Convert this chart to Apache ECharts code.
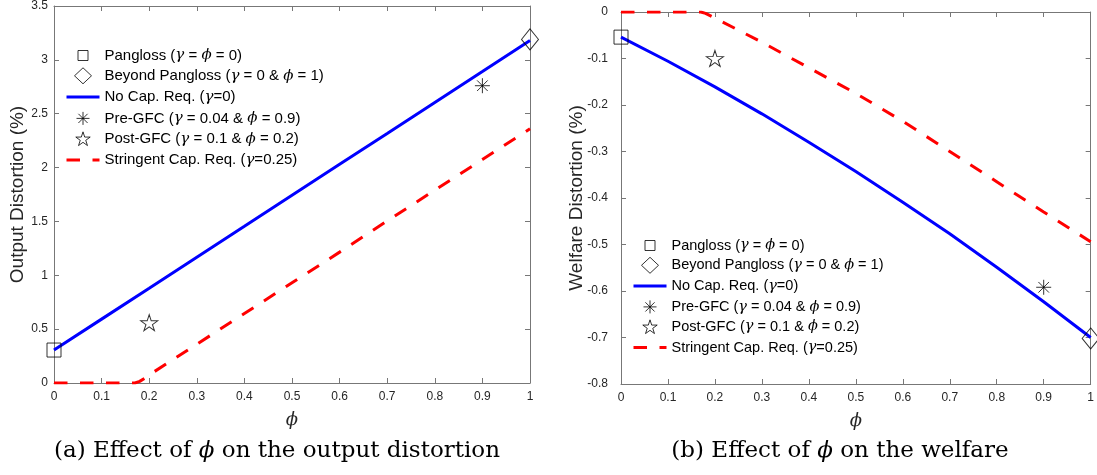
<!DOCTYPE html>
<html>
<head>
<meta charset="utf-8">
<script src="https://cdn.jsdelivr.net/npm/echarts@6/dist/echarts.min.js"></script>
<style>
html,body{margin:0;padding:0;background:#fff;}
#chart{width:1097px;height:475px;}
</style>
</head>
<body>
<div id="chart"></div>
<script>
// ---- data ----
const phiGrid = [0, 0.1, 0.2, 0.3, 0.4, 0.5, 0.6, 0.7, 0.8, 0.9, 1];
const outputNoCap = [0.306, 0.593, 0.88, 1.168, 1.455, 1.743, 2.03, 2.317, 2.605, 2.892, 3.18];
const phiStringentOut = [0, 0.1, 0.17, 0.18, 0.19, 0.2, 0.3, 0.4, 0.5, 0.6, 0.7, 0.8, 0.9, 1];
const outputStringent = [0, 0, 0, 0.015, 0.043, 0.075, 0.36, 0.645, 0.93, 1.215, 1.505, 1.79, 2.075, 2.36];
const welfareNoCap = [-0.054, -0.106, -0.161, -0.219, -0.280, -0.343, -0.409, -0.477, -0.549, -0.623, -0.700];
const phiStringentWel = [0, 0.1, 0.17, 0.18, 0.2, 0.3, 0.4, 0.5, 0.6, 0.7, 0.8, 0.9, 1];
const welfareStringent = [0, 0, 0, -0.003, -0.013, -0.065, -0.12, -0.175, -0.235, -0.30, -0.365, -0.43, -0.494];
const regimeNames = ['Pangloss', 'Beyond Pangloss', 'Pre-GFC', 'Post-GFC'];
const regimePhi = [0, 1, 0.9, 0.2];
const outputRegime = [0.306, 3.19, 2.76, 0.56];
const welfareRegime = [-0.054, -0.702, -0.592, -0.10];
const lineNames = ['No Cap. Req.', 'Stringent Cap. Req.'];
const legendOrder = ['Pangloss', 'Beyond Pangloss', 'No Cap. Req.', 'Pre-GFC', 'Post-GFC', 'Stringent Cap. Req.'];
const legendLabels = {
  'Pangloss': 'Pangloss ({g|γ} = {g|ϕ} = 0)',
  'Beyond Pangloss': 'Beyond Pangloss ({g|γ} = 0 & {g|ϕ} = 1)',
  'No Cap. Req.': 'No Cap. Req. ({g|γ}=0)',
  'Pre-GFC': 'Pre-GFC ({g|γ} = 0.04 & {g|ϕ} = 0.9)',
  'Post-GFC': 'Post-GFC ({g|γ} = 0.1 & {g|ϕ} = 0.2)',
  'Stringent Cap. Req.': 'Stringent Cap. Req. ({g|γ}=0.25)'
};

// ---- styles ----
const AX = '#777';
const TXT = '#262626';
const BLUE = '#0000ff';
const RED = '#ff0000';
const DASH = [13.5, 12.5];
const ASTER = 'path://M0 10L20 10M10 0L10 20M2.93 2.93L17.07 17.07M17.07 2.93L2.93 17.07';
const STAR = 'path://M10 0L12.245 6.91L19.511 6.91L13.633 11.18L15.878 18.09L10 13.82L4.122 18.09L6.367 11.18L0.489 6.91L7.755 6.91Z';
const markerStyle = {color: 'rgba(0,0,0,0)', borderColor: '#000', borderWidth: 1};
const regimeSymbols = {
  'Pangloss': {symbol: 'rect', size: 14},
  'Beyond Pangloss': {symbol: 'diamond', size: [17, 21]},
  'Pre-GFC': {symbol: ASTER, size: 15},
  'Post-GFC': {symbol: STAR, size: [17, 16]}
};
const legendIcons = {
  'Pangloss': {icon: 'path://M0 0M16 16M3 3L13 3L13 13L3 13Z', itemStyle: markerStyle},
  'Beyond Pangloss': {icon: 'path://M8.5 0L17 8L8.5 16L0 8Z', itemStyle: markerStyle},
  'No Cap. Req.': {icon: 'path://M0 0M33 16M0 8L33 8', itemStyle: {color: 'rgba(0,0,0,0)', borderColor: BLUE, borderWidth: 3}},
  'Pre-GFC': {icon: 'path://M0 0M16 16M1.5 8L14.5 8M8 1.5L8 14.5M3.4 3.4L12.6 12.6M12.6 3.4L3.4 12.6', itemStyle: markerStyle},
  'Post-GFC': {icon: 'path://M10 -1.5M10 19.6M10 0L12.245 6.91L19.511 6.91L13.633 11.18L15.878 18.09L10 13.82L4.122 18.09L6.367 11.18L0.489 6.91L7.755 6.91Z', itemStyle: markerStyle},
  'Stringent Cap. Req.': {icon: 'path://M0 0M33 16M0 8L33 8', itemStyle: {color: 'rgba(0,0,0,0)', borderColor: RED, borderWidth: 3, borderType: DASH}}
};

function zip(xs, ys) { return xs.map((x, i) => [x, ys[i]]); }

function xAxes(grid, top) {
  return {
    type: 'value', gridIndex: grid, position: top ? 'top' : 'bottom',
    min: 0, max: 1, interval: 0.1,
    axisLine: {show: true, onZero: false, lineStyle: {color: AX, width: 1}},
    axisTick: {show: true, inside: true, length: 5, lineStyle: {color: AX}},
    axisLabel: {show: !top, margin: 8, color: TXT, fontSize: 12, fontFamily: 'Liberation Sans'},
    splitLine: {show: false},
    name: top ? '' : 'ϕ', nameLocation: 'middle', nameGap: 28, nameMoveOverlap: false,
    nameTextStyle: {fontFamily: 'DejaVu Serif', fontStyle: 'italic', fontSize: 18, color: TXT}
  };
}
function yAxes(grid, right, min, max, interval, name, gap, labelMargin) {
  return {
    type: 'value', gridIndex: grid, position: right ? 'right' : 'left',
    min: min, max: max, interval: interval,
    axisLine: {show: true, onZero: false, lineStyle: {color: AX, width: 1}},
    axisTick: {show: true, inside: true, length: 5, lineStyle: {color: AX}},
    axisLabel: {show: !right, margin: labelMargin, color: TXT, fontSize: 12, fontFamily: 'Liberation Sans'},
    splitLine: {show: false},
    name: right ? '' : name, nameLocation: 'middle', nameGap: gap, nameMoveOverlap: false,
    nameTextStyle: {fontFamily: 'Liberation Sans', fontSize: 19, color: TXT}
  };
}

function panelSeries(xIdx, yIdx, noCapPhi, noCap, strPhi, str, regimeVals) {
  const s = [
    {name: lineNames[0], type: 'line', xAxisIndex: xIdx, yAxisIndex: yIdx, data: zip(noCapPhi, noCap),
     symbol: 'none', lineStyle: {color: BLUE, width: 3}, itemStyle: {color: BLUE}, z: 2},
    {name: lineNames[1], type: 'line', xAxisIndex: xIdx, yAxisIndex: yIdx, data: zip(strPhi, str),
     symbol: 'none', lineStyle: {color: RED, width: 3, type: DASH}, itemStyle: {color: RED}, z: 2}
  ];
  regimeNames.forEach((n, i) => {
    s.push({name: n, type: 'scatter', xAxisIndex: xIdx, yAxisIndex: yIdx,
      data: [[regimePhi[i], regimeVals[i]]], symbol: regimeSymbols[n].symbol,
      symbolSize: regimeSymbols[n].size, itemStyle: markerStyle, clip: false, z: 3,
      emphasis: {disabled: true}});
  });
  return s;
}

function legendFor(left, top, fontSize, gap) {
  return {
    orient: 'vertical', left: left, top: top, padding: 0,
    itemWidth: 33, itemHeight: 16, itemGap: gap, selectedMode: false,
    data: legendOrder.map(n => Object.assign({name: n}, legendIcons[n])),
    formatter: n => legendLabels[n],
    textStyle: {fontFamily: 'Liberation Sans', fontSize: fontSize, color: '#000', lineHeight: 16,
      rich: {g: {fontFamily: 'DejaVu Serif', fontStyle: 'italic', fontSize: fontSize, lineHeight: 16, color: '#000'}}}
  };
}

const chart = echarts.init(document.getElementById('chart'), null, {renderer: 'canvas'});
chart.setOption({
  animation: false,
  backgroundColor: '#fff',
  grid: [
    {left: 54, top: 6, width: 476, height: 377},
    {left: 621, top: 12, width: 472, height: 372}
  ],
  xAxis: [xAxes(0, false), xAxes(0, true), xAxes(1, false), xAxes(1, true)],
  yAxis: [
    yAxes(0, false, 0, 3.5, 0.5, 'Output Distortion (%)', 27, 6),
    yAxes(0, true, 0, 3.5, 0.5, '', 0, 6),
    yAxes(1, false, -0.8, 0, 0.1, 'Welfare Distortion (%)', 35, 13),
    yAxes(1, true, -0.8, 0, 0.1, '', 0, 6)
  ],
  legend: [legendFor(65, 47, 15, 3.3), legendFor(632, 237, 14.5, 2.8)],
  series: [].concat(
    panelSeries(0, 0, phiGrid, outputNoCap, phiStringentOut, outputStringent, outputRegime),
    panelSeries(2, 2, phiGrid, welfareNoCap, phiStringentWel, welfareStringent, welfareRegime)
  ),
  graphic: [
    {type: 'text', silent: true, style: {x: 277, y: 451, align: 'center', verticalAlign: 'middle',
      text: '(a) Effect of {i|ϕ} on the output distortion', fill: '#000',
      fontFamily: 'DejaVu Serif', fontSize: 23,
      rich: {i: {fontFamily: 'DejaVu Serif', fontStyle: 'italic', fontSize: 23}}}},
    {type: 'text', silent: true, style: {x: 840, y: 451, align: 'center', verticalAlign: 'middle',
      text: '(b) Effect of {i|ϕ} on the welfare', fill: '#000',
      fontFamily: 'DejaVu Serif', fontSize: 23,
      rich: {i: {fontFamily: 'DejaVu Serif', fontStyle: 'italic', fontSize: 23}}}}
  ]
});
</script>
</body>
</html>
